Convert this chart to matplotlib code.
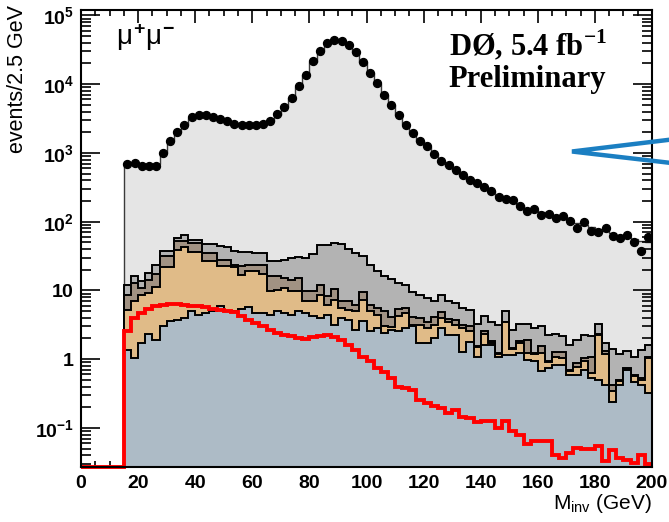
import numpy as np
import matplotlib
matplotlib.use("Agg")
import matplotlib.pyplot as plt
from matplotlib.lines import Line2D
from matplotlib.ticker import FixedLocator, FixedFormatter, LogLocator, NullFormatter, MultipleLocator

plt.rcParams['font.family'] = ['Liberation Sans', 'DejaVu Sans']
plt.rcParams['mathtext.fontset'] = 'custom'
plt.rcParams['mathtext.rm'] = 'Liberation Sans:bold'
plt.rcParams['mathtext.it'] = 'Liberation Sans'
plt.rcParams['mathtext.bf'] = 'Liberation Serif:bold'

# ---------------- axis settings ----------------
X_MIN, X_MAX = 0.0, 200.0
Y_MIN, Y_MAX = 0.027, 1.2e5
BIN_START, BIN_WIDTH = 15.0, 2.5

# ---------------- data (events / 2.5 GeV) ----------------
data = [690, 713, 650, 650, 635, 1000, 1500, 2050, 2570, 3300,
        3600, 3600, 3300, 3100, 2880, 2660, 2570, 2570, 2570, 2660,
        2940, 3680, 4600, 6300, 9300, 13700, 21500, 30000, 40000, 44500,
        43000, 37600, 29000, 21000, 14500, 10500, 7000, 5000, 3600, 2570,
        1950, 1470, 1250, 960, 754, 660, 570, 480, 405, 365,
        315, 283, 225, 213, 205, 171, 144, 154, 126, 129,
        115, 119, 103, 80, 98, 72, 71, 80, 61, 58,
        63, 50, 37, 60]

# total expectation (top of stack, Z/gamma* on top)
mc_total = [700, 700, 695, 690, 690, 1000, 1500, 2000, 2550, 3200,
            3500, 3550, 3350, 3100, 2880, 2680, 2560, 2520, 2520, 2600,
            2900, 3600, 4600, 6300, 9200, 13700, 21000, 30000, 39000, 44000,
            43000, 37000, 29000, 21000, 14500, 10200, 7000, 4950, 3550, 2600,
            1950, 1500, 1230, 970, 770, 650, 560, 475, 410, 360,
            315, 275, 235, 215, 195, 172, 155, 148, 140, 130,
            123, 115, 105, 95, 90, 84, 78, 74, 68, 64,
            60, 56, 52, 50]

# cumulative stack boundaries
stack_grey = [11.8, 16.3, 13.5, 17.9, 23.1, 37.8, 37.8, 57.7, 63.1, 54.6,
              54.6, 47.8, 47.2, 43.7, 42.3, 36.9, 36.1, 36.1, 34.9, 34.9,
              26.4, 26.4, 27.9, 29.5, 30.2, 29.5,
              33.8, 45.2, 45.2, 48.9, 47.2, 40.4, 34.9, 31.2, 23.6, 19.3,
              16.0, 14.8, 12.8, 12.1, 9.4, 8.65, 7.7, 7.06, 8.65, 6.9,
              6.5, 5.5, 5.2, 3.25, 4.2, 3.5,
              3.09, 5.06, 2.67, 3.27, 3.27, 2.83, 3.05, 2.21, 2.31, 2.14,
              1.62, 1.87, 2.26, 2.14, 3.27, 1.7, 1.41, 1.18, 1.32, 1.09,
              1.37, 1.62]

stack_taupe = [8.65, 12.8, 10.8, 14.3, 17.5, 31.2, 31.2, 51.6, 52.8, 48.9,
               48.9, 34.9, 34.9, 27.9, 27.9, 23.6,
               22.3, 23.6, 23.6, 23.6, 16.0, 16.0, 15.1, 14.3, 15.1,
               9.66, 9.66, 12.1, 8.17, 10.5, 7.06, 6.9, 6.18, 9.44, 6.18, 5.53,
               5.06, 4.04, 5.41, 5.53, 4.04, 3.95, 3.46, 4.04, 4.83, 3.86,
               3.74, 3.09, 2.99, 1.53, 2.59, 1.81,
               1.22, 3.53, 1.45, 1.81, 1.91, 1.22, 1.58, 0.925, 1.29, 1.29,
               0.70, 0.875, 1.03, 1.09, 2.31, 1.3, 0.424, 0.50, 0.74, 0.591,
               0.53, 1.09]

stack_tan = [5.23, 6.92, 8.45, 9.14, 11.4, 21.6, 21.6, 39.1, 42.3, 36.1,
             36.1, 26.4, 26.4, 23.0, 23.0, 22.0,
             16.5, 18.9, 18.9, 17.3, 9.66, 10.2, 11.0, 9.9, 9.66, 6.9,
             6.9, 8.6, 6.18, 7.3, 5.53, 5.2, 4.94, 7.3, 4.94, 4.42,
             2.99, 2.89, 4.18, 4.68, 3.16, 3.16, 2.83, 3.16, 3.95, 3.46,
             3.16, 2.83, 2.53, 1.48, 2.31, 1.71,
             1.18, 3.46, 1.42, 1.71, 1.22, 1.18, 1.22, 0.905, 1.06, 1.03,
             0.676, 0.757, 0.925, 0.625, 2.26, 1.2, 0.346, 0.484, 0.723, 0.56,
             0.50, 1.03]

stack_blue = [1.37, 1.03, 1.71, 2.31, 1.91, 2.99, 3.62, 3.74, 3.95, 4.94,
              4.32,
              4.67, 5.1, 5.85, 5.1, 5.1, 5.3, 5.66, 4.67, 4.67, 4.42,
              4.94, 4.67, 4.42, 4.94, 4.67, 4.18, 3.95, 4.42, 3.16, 3.95,
              3.73, 2.67, 3.54, 2.53, 2.83,
              2.39, 2.67, 2.53, 2.83, 2.99, 1.71, 1.71, 2.02, 2.83, 2.26,
              2.26, 1.29, 1.75, 1.09, 1.62, 1.62,
              1.09, 1.16, 1.16, 1.22, 0.978, 0.925, 0.676, 0.74, 0.828, 0.828,
              0.591, 0.591, 0.70, 0.53, 0.50, 0.424, 0.242, 0.424, 0.70, 0.473,
              0.424, 0.32]

# signal (red line)
signal = [2.55, 3.95, 4.67, 5.4, 5.9, 6.1, 6.3, 6.4, 6.2, 6.0,
          5.85,
          5.66, 5.4, 5.2, 5.05, 4.83, 4.18, 3.73, 3.34, 2.99, 2.67,
          2.39, 2.26, 2.14, 2.02, 1.95, 2.07, 2.14, 2.21, 2.07, 1.91,
          1.62, 1.37, 1.09, 0.925, 0.74,
          0.65, 0.53, 0.40, 0.38, 0.357, 0.256, 0.229, 0.205, 0.194, 0.164,
          0.183, 0.146, 0.138, 0.121, 0.126, 0.126, 0.099, 0.126, 0.089, 0.079,
          0.058, 0.065, 0.065, 0.065, 0.0397, 0.036, 0.043, 0.051, 0.05, 0.05,
          0.055, 0.0325, 0.048, 0.036, 0.034, 0.0306, 0.0405, 0.0297]

y_tick_values = [0.1, 1, 10, 100, 1e3, 1e4, 1e5]
y_tick_labels = [r'$10^{-1}$', r'$1$', r'$10$', r'$10^{2}$', r'$10^{3}$',
                 r'$10^{4}$', r'$10^{5}$']

# colours
C_Z = '#e5e5e5'
C_GREY = '#b3b3b3'
C_TAUPE = '#a19283'
C_TAN = '#e0bb88'
C_BLUE = '#adbbc6'
C_RED = '#ff0000'

# ---------------- figure ----------------
nb = len(data)
edges = BIN_START + BIN_WIDTH * np.arange(nb + 1)
centers = edges[:-1] + BIN_WIDTH / 2.0

fig = plt.figure(figsize=(6.69, 5.22), dpi=100)
ax = fig.add_axes([81 / 669, 1 - 467 / 522, (652 - 81) / 669, (467 - 10) / 522])
ax.set_yscale('log')
ax.set_xlim(X_MIN, X_MAX)
ax.set_ylim(Y_MIN, Y_MAX)

layers = [(mc_total, C_Z, '#3a3a3a', 1.0),
          (stack_grey, C_GREY, 'black', 1.4),
          (stack_taupe, C_TAUPE, 'black', 1.4),
          (stack_tan, C_TAN, 'black', 1.4),
          (stack_blue, C_BLUE, 'black', 1.4)]
z = 1
for vals, fc, ec, lw in layers:
    ax.stairs(vals, edges, baseline=Y_MIN, fill=True, facecolor=fc,
              edgecolor='none', linewidth=0, zorder=z)
    ax.stairs(vals, edges, baseline=Y_MIN, fill=False, color=ec,
              linewidth=lw, zorder=z + 0.5)
    z += 1

red_edges = np.concatenate([[X_MIN], edges])
red_vals = [Y_MIN] + signal
ax.stairs(red_vals, red_edges, baseline=None, color=C_RED, linewidth=2.8,
          zorder=10, clip_on=False)

ax.plot(centers, data, 'o', color='black', markersize=5.7, zorder=11)

# ---------------- ticks ----------------
ax.xaxis.set_major_locator(MultipleLocator(20))
ax.xaxis.set_minor_locator(MultipleLocator(5))
ax.yaxis.set_major_locator(FixedLocator(y_tick_values))
ax.yaxis.set_major_formatter(FixedFormatter(y_tick_labels))
ax.yaxis.set_minor_locator(LogLocator(base=10, subs=np.arange(2, 10)))
ax.yaxis.set_minor_formatter(NullFormatter())

ax.tick_params(axis='both', which='both', direction='in', top=True, right=True,
               color='black', width=1.2)
ax.tick_params(axis='x', which='major', length=9, labelsize=14, pad=6)
ax.tick_params(axis='x', which='minor', length=4.5)
ax.tick_params(axis='y', which='major', length=14, labelsize=14, pad=5)
ax.tick_params(axis='y', which='minor', length=7)
for lab in ax.get_xticklabels():
    lab.set_fontweight('bold')
for sp in ax.spines.values():
    sp.set_linewidth(1.5)
    sp.set_zorder(12)

ax.set_ylabel('events/2.5 GeV', fontsize=15.5, loc='top')
ax.yaxis.set_label_coords(-0.092, 1.011)
ax.set_xlabel(r'M$_{\mathit{inv}}$ (GeV)', fontsize=15, loc='right')
ax.xaxis.set_label_coords(1.0, -0.055)

# ---------------- annotations ----------------
ax.text(0.061, 0.923, r'$\mathit{\mu^{+}\mu^{-}}$', transform=ax.transAxes,
        fontsize=20, va='baseline', ha='left', zorder=13)
ax.text(0.644, 0.9015, 'D\u00d8, 5.4 fb$^{\\mathbf{-1}}$', transform=ax.transAxes,
        fontsize=22, fontweight='bold', family=['Liberation Serif', 'DejaVu Serif'],
        va='baseline', ha='left', zorder=13)
ax.text(0.644, 0.8315, 'Preliminary', transform=ax.transAxes,
        fontsize=22, fontweight='bold', family=['Liberation Serif', 'DejaVu Serif'],
        va='baseline', ha='left', zorder=13)

# blue arrow head from the slide (partly outside)
fig.add_artist(Line2D([1.01, 572 / 669, 1.01],
                      [1 - 139.0 / 522, 1 - 151.5 / 522, 1 - 163.5 / 522],
                      transform=fig.transFigure, color='#1b7fc2', linewidth=3.2,
                      solid_joinstyle='miter', zorder=20))

fig.savefig('out.png', dpi=100)
